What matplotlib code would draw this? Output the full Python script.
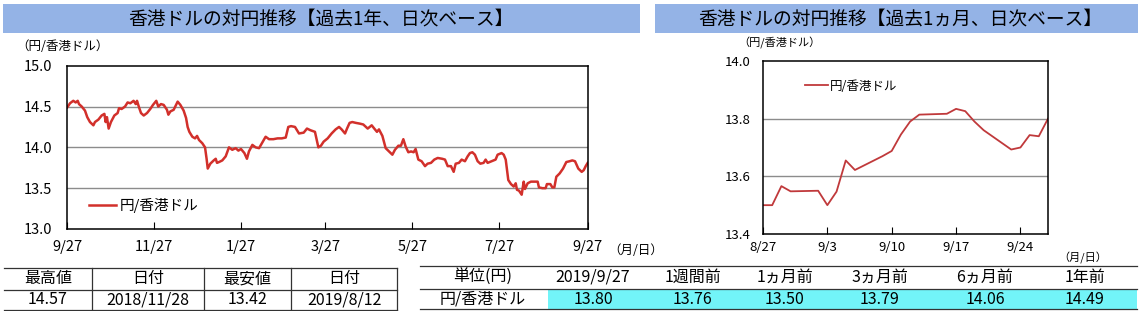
import matplotlib
matplotlib.use("Agg")
import matplotlib.pyplot as plt
from matplotlib.patches import Rectangle
import numpy as np
import pandas as pd

plt.rcParams["font.family"] = ["Noto Sans CJK JP", "DejaVu Sans"]
plt.rcParams["axes.unicode_minus"] = False

# ---- data: past 1 year (days after 2018/9/27, yen per HKD) ----
YEAR_START = "2018-09-27"
year_days = [
    0, 1.9, 4.2, 5.9, 7.3, 8.2, 10.1, 12.4, 14.0, 15.9, 18.3, 19.4, 21.8, 24.1, 26.0, 26.9,
    27.8, 29.0, 30.6, 33.0, 35.3, 36.3, 38.1, 40.5, 42.3, 44.2, 46.5, 48.0, 48.9, 50.3, 51.7,
    53.6, 55.9, 58.2, 60.1, 62.4, 63.8, 65.7, 67.6, 69.9, 70.9, 72.3, 74.6, 76.0, 77.4, 79.3,
    81.6, 83.3, 84.4, 85.6, 87.7, 89.6, 91.0, 92.4, 94.7, 96.6, 97.7, 98.5, 100.3, 102.7,
    104.1, 105.0, 106.4, 108.7, 111.1, 113.4, 115.7, 118.1, 120.0, 121.8, 124.2, 126.0,
    127.4, 129.8, 132.1, 134.5, 136.8, 139.1, 141.5, 144.5, 147.5, 150.4, 153.2, 155.0,
    156.9, 159.7, 162.5, 165.8, 168.1, 170.5, 173.7, 176.1, 177.9, 179.8, 182.6, 185.4,
    188.2, 190.6, 192.4, 194.8, 196.2, 198.0, 199.9, 202.3, 205.3, 207.6, 210.7, 213.5,
    215.3, 217.2, 218.6, 221.0, 223.3, 225.6, 228.0, 229.8, 232.2, 234.0, 235.7, 237.3,
    239.2, 241.1, 242.9, 244.3, 245.0, 246.2, 248.5, 250.9, 252.7, 255.1, 257.4, 259.8,
    263.0, 264.9, 266.8, 269.1, 271.0, 272.4, 274.7, 276.6, 278.9, 280.8, 282.4, 284.1,
    285.9, 287.8, 289.7, 292.0, 293.4, 294.8, 297.6, 300.4, 301.8, 304.6, 306.1, 307.5,
    308.4, 309.3, 311.2, 313.1, 314.5, 315.4, 316.8, 318.7, 320.1, 321.0, 322.9, 325.2,
    328.0, 329.9, 330.8, 333.2, 335.5, 336.4, 338.8, 340.2, 341.6, 343.0, 345.3, 347.7,
    350.0, 352.3, 354.2, 356.1, 358.4, 360.8, 362.2, 363.6, 365.0,
]
year_rate = [
    14.49, 14.54, 14.57, 14.55, 14.57, 14.53, 14.50, 14.45, 14.37, 14.31, 14.27, 14.31, 14.34,
    14.39, 14.41, 14.31, 14.37, 14.23, 14.31, 14.39, 14.42, 14.48, 14.47, 14.50, 14.55, 14.54,
    14.57, 14.53, 14.57, 14.49, 14.42, 14.39, 14.42, 14.47, 14.52, 14.57, 14.50, 14.53, 14.52,
    14.46, 14.40, 14.44, 14.46, 14.51, 14.56, 14.52, 14.45, 14.36, 14.25, 14.19, 14.13, 14.11,
    14.14, 14.09, 14.05, 14.00, 13.86, 13.74, 13.80, 13.84, 13.86, 13.81, 13.82, 13.84, 13.89,
    14.00, 13.97, 13.99, 13.96, 13.98, 13.93, 13.86, 13.95, 14.03, 14.00, 13.99, 14.06, 14.13,
    14.10, 14.10, 14.11, 14.11, 14.12, 14.25, 14.26, 14.25, 14.17, 14.18, 14.23, 14.21, 14.19,
    14.00, 14.02, 14.07, 14.11, 14.17, 14.22, 14.25, 14.22, 14.17, 14.23, 14.30, 14.31, 14.30,
    14.29, 14.28, 14.23, 14.27, 14.23, 14.19, 14.22, 14.14, 13.99, 13.95, 13.91, 13.97, 14.02,
    14.02, 14.10, 14.01, 13.94, 13.95, 13.94, 13.98, 13.93, 13.85, 13.83, 13.77, 13.80, 13.81,
    13.85, 13.87, 13.86, 13.85, 13.77, 13.77, 13.70, 13.80, 13.81, 13.85, 13.83, 13.89, 13.93,
    13.94, 13.91, 13.83, 13.80, 13.81, 13.85, 13.81, 13.83, 13.85, 13.91, 13.93, 13.91, 13.85,
    13.72, 13.60, 13.55, 13.52, 13.56, 13.48, 13.47, 13.42, 13.58, 13.49, 13.56, 13.58, 13.58,
    13.58, 13.51, 13.50, 13.50, 13.55, 13.55, 13.51, 13.51, 13.64, 13.68, 13.74, 13.82, 13.83,
    13.84, 13.83, 13.74, 13.70, 13.72, 13.77, 13.81,
]
year_ticks = ["2018-09-27", "2018-11-27", "2019-01-27", "2019-03-27", "2019-05-27", "2019-07-27", "2019-09-27"]
year_tick_labels = ["9/27", "11/27", "1/27", "3/27", "5/27", "7/27", "9/27"]

# ---- data: past 1 month (business days) ----
month_dates = [
    "2019-08-27", "2019-08-28", "2019-08-29", "2019-08-30", "2019-09-02", "2019-09-03",
    "2019-09-04", "2019-09-05", "2019-09-06", "2019-09-09", "2019-09-10", "2019-09-11",
    "2019-09-12", "2019-09-13", "2019-09-16", "2019-09-17", "2019-09-18", "2019-09-19",
    "2019-09-20", "2019-09-23", "2019-09-24", "2019-09-25", "2019-09-26", "2019-09-27",
]
month_rate = [
    13.50, 13.50, 13.566, 13.548, 13.55, 13.50, 13.547, 13.655, 13.622, 13.67, 13.688, 13.745,
    13.79, 13.814, 13.817, 13.834, 13.826, 13.79, 13.76, 13.693, 13.70, 13.743, 13.739, 13.80,
]
month_ticks = ["2019-08-27", "2019-09-03", "2019-09-10", "2019-09-17", "2019-09-24"]
month_tick_labels = ["8/27", "9/3", "9/10", "9/17", "9/24"]

# ---- tables ----
range_headers = ["最高値", "日付", "最安値", "日付"]
range_values = ["14.57", "2018/11/28", "13.42", "2019/8/12"]
compare_headers = ["2019/9/27", "1週間前", "1ヵ月前", "3ヵ月前", "6ヵ月前", "1年前"]
compare_values = [13.80, 13.76, 13.50, 13.79, 14.06, 14.49]

W, H = 1142, 311
fig = plt.figure(figsize=(W / 100, H / 100), dpi=100)
fig.patch.set_facecolor("white")

# overlay in pixel coordinates for bars, labels and tables
ov = fig.add_axes([0, 0, 1, 1], zorder=0)
ov.set_xlim(0, W)
ov.set_ylim(H, 0)
ov.axis("off")

bar_color = "#94B3E6"
ov.add_patch(Rectangle((3, 4), 637, 29, facecolor=bar_color, edgecolor="none"))
ov.add_patch(Rectangle((655, 4), 483, 29, facecolor=bar_color, edgecolor="none"))
ov.text(321, 19, "香港ドルの対円推移【過去1年、日次ベース】", ha="center", va="center", fontsize=13.5)
ov.text(900, 19, "香港ドルの対円推移【過去1ヵ月、日次ベース】", ha="center", va="center", fontsize=13.5)
ov.text(16, 46, "（円/香港ドル）", ha="left", va="center", fontsize=9)
ov.text(738, 43, "（円/香港ドル）", ha="left", va="center", fontsize=8)
ov.text(608, 251, "（月/日）", ha="left", va="center", fontsize=9)
ov.text(1058, 258, "（月/日）", ha="left", va="center", fontsize=8)


def pos(x0, y0, x1, y1):
    return [x0 / W, 1 - y1 / H, (x1 - x0) / W, (y1 - y0) / H]


# ---- left chart ----
ax1 = fig.add_axes(pos(67.3, 65.7, 587.7, 229), zorder=2)
x1 = pd.Timestamp(YEAR_START) + pd.to_timedelta(np.array(year_days), unit="D")
ax1.plot(x1, year_rate, color="#D2302B", linewidth=1.8, label="円/香港ドル")
ax1.set_xlim(pd.Timestamp(year_ticks[0]), pd.Timestamp(year_ticks[-1]))
ax1.set_ylim(13.0, 15.0)
ax1.set_yticks([13.0, 13.5, 14.0, 14.5, 15.0])
ax1.set_yticklabels(["13.0", "13.5", "14.0", "14.5", "15.0"])
ax1.set_xticks(pd.to_datetime(year_ticks))
ax1.set_xticklabels(year_tick_labels)
ax1.tick_params(axis="x", direction="in", length=5, width=0.8, pad=8, labelsize=10.5)
ax1.tick_params(axis="y", length=0, pad=11, labelsize=10.5)
for v in [13.5, 14.0, 14.5]:
    ax1.axhline(v, color="#8C8C8C", linewidth=1.0, zorder=0)
for s in ax1.spines.values():
    s.set_linewidth(1.1)
ax1.legend(loc="lower left", bbox_to_anchor=(0.03, 0.06), frameon=False, fontsize=10.5,
           handlelength=1.9, handletextpad=0.2, borderaxespad=0)

# ---- right chart ----
ax2 = fig.add_axes(pos(763, 61, 1048, 234), zorder=2)
ax2.plot(pd.to_datetime(month_dates), month_rate, color="#C0393B", linewidth=1.3, label="円/香港ドル")
ax2.set_xlim(pd.Timestamp("2019-08-27"), pd.Timestamp("2019-09-27"))
ax2.set_ylim(13.4, 14.0)
ax2.set_yticks([13.4, 13.6, 13.8, 14.0])
ax2.set_yticklabels(["13.4", "13.6", "13.8", "14.0"])
ax2.set_xticks(pd.to_datetime(month_ticks))
ax2.set_xticklabels(month_tick_labels)
ax2.tick_params(axis="x", direction="in", length=5, width=0.8, pad=5, labelsize=9.5)
ax2.tick_params(axis="y", length=0, pad=9, labelsize=9.5)
for v in [13.6, 13.8]:
    ax2.axhline(v, color="#8C8C8C", linewidth=1.0, zorder=0)
for s in ax2.spines.values():
    s.set_linewidth(1.1)
ax2.legend(loc="upper left", bbox_to_anchor=(0.13, 0.92), frameon=False, fontsize=9,
           handlelength=1.8, handletextpad=0.2, borderaxespad=0)

# ---- left table ----
col_edges = [4, 92, 204, 291, 397]
for y in [268, 290, 310]:
    ov.plot([col_edges[0], col_edges[-1]], [y, y], color="#333333", linewidth=0.9)
for x in col_edges[1:]:
    ov.plot([x, x], [268, 310], color="#333333", linewidth=0.9)
for i, (hd, val) in enumerate(zip(range_headers, range_values)):
    cx = (col_edges[i] + col_edges[i + 1]) / 2
    ov.text(cx, 279, hd, ha="center", va="center", fontsize=11.5)
    ov.text(cx, 300, val, ha="center", va="center", fontsize=11.5)

# ---- right table ----
ov.add_patch(Rectangle((548, 289), 589, 20, facecolor="#72F4F8", edgecolor="none"))
for y in [266, 289, 309]:
    ov.plot([420, 1137], [y, y], color="#333333", linewidth=0.9)
ov.text(483, 277, "単位(円)", ha="center", va="center", fontsize=11.5)
ov.text(483, 299, "円/香港ドル", ha="center", va="center", fontsize=11.5)
compare_cx = [593, 693, 785, 880, 985, 1085]
for cx, hd, val in zip(compare_cx, compare_headers, compare_values):
    ov.text(cx, 277, hd, ha="center", va="center", fontsize=11.5)
    ov.text(cx, 299, f"{val:.2f}", ha="center", va="center", fontsize=11.5)

fig.savefig("out.png", dpi=100, facecolor="white")
